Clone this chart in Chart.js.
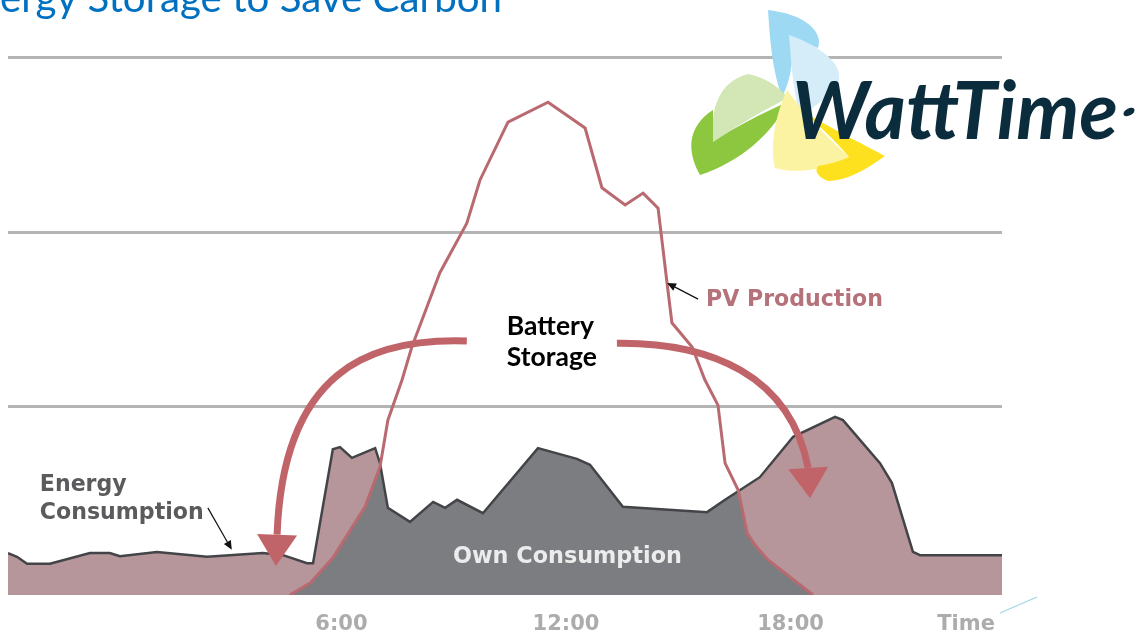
<!DOCTYPE html>
<html><head><meta charset="utf-8">
<script src="https://cdn.jsdelivr.net/npm/chart.js@4.4.1/dist/chart.umd.min.js"></script>
<style>html,body{margin:0;padding:0;background:#fff;overflow:hidden}</style>
</head><body>
<canvas id="c" width="1147" height="633"></canvas>
<script>
// ---- data (hours of day, relative power 0..100) ----
const consHours  = [-2.91,-2.67,-2.40,-1.79,-0.72,-0.19,0.08,1.07,2.41,3.90,4.44,5.08,5.24,5.77,5.96,6.28,6.90,7.03,7.24,7.83,8.45,8.77,9.09,9.78,11.25,12.29,12.64,13.52,15.77,16.25,17.18,18.07,19.19,19.40,20.39,20.71,21.27,21.46,23.65];
const consValues = [7.8,7.1,5.8,5.8,7.8,7.8,7.2,8.0,7.1,7.8,7.4,5.9,5.9,27.1,27.5,25.5,27.3,24.5,16.2,13.6,17.3,16.2,17.7,15.2,27.3,25.3,24.2,16.4,15.4,17.7,21.9,29.4,33.1,32.5,24.5,20.8,8.0,7.4,7.4];
const pvHours  = [4.62,5.16,5.77,6.63,7.03,7.24,7.62,7.88,8.63,9.35,9.70,10.45,11.52,12.51,12.96,13.58,14.06,14.46,14.70,14.83,15.37,15.71,16.06,16.25,16.60,16.84,17.05,17.40,18.60];
const pvValues = [0,2.2,6.9,16.4,23.8,32.5,40.0,46.1,59.9,69.1,77.1,87.9,91.6,86.8,75.7,72.5,74.7,71.9,58.0,50.6,46.1,40.0,35.3,24.5,19.5,11.5,9.3,6.5,0];
const tickHours  = [6, 12, 18, 22.69];
const tickLabels = ['6:00', '12:00', '18:00', 'Time'];
const gridValues = [35.13, 67.47, 100];
const xRange = [-2.91, 23.65];
const yRange = [0, 100];

// annotation anchors in data units
const leftArrow  = [[9.35,47.2],[6.76,47.8],[4.44,41.8],[4.28,11.2]];
const leftTip    = [4.25,5.4];
const rightArrow = [[13.36,46.8],[15.85,47.0],[17.99,40.9],[18.47,23.6]];
const rightTip   = [18.52,18.0];
const pvPointer  = [[15.53,55.0],[14.70,58.0]];
const consPointer= [[2.43,16.2],[3.07,8.4]];

const COLORS = {cons:'#b6969a', consLine:'#434447', own:'#7b7d81', pv:'#b96a70', arrow:'#c1646a', grid:'#b4b4b4'};

function fitFont(ctx, text, width, weight, family){
  ctx.font = weight + ' 100px ' + family;
  const w = ctx.measureText(text).width;
  return 100 * width / w;
}
function drawText(ctx, text, x, y, size, weight, family, color, align){
  ctx.font = weight + ' ' + size + 'px ' + family;
  ctx.fillStyle = color; ctx.textAlign = align || 'left'; ctx.textBaseline = 'alphabetic';
  ctx.fillText(text, x, y);
}
function head(ctx, bx, by, tx, ty, halfW, color){
  const dx = tx-bx, dy = ty-by, L = Math.hypot(dx,dy);
  const nx = -dy/L, ny = dx/L;
  ctx.beginPath();
  ctx.moveTo(bx+nx*halfW, by+ny*halfW);
  ctx.lineTo(tx, ty);
  ctx.lineTo(bx-nx*halfW, by-ny*halfW);
  ctx.closePath(); ctx.fillStyle = color; ctx.fill();
}
function pointer(ctx, a, b){
  ctx.save();
  ctx.strokeStyle = '#111'; ctx.lineWidth = 1.2;
  const dx=b[0]-a[0], dy=b[1]-a[1], L=Math.hypot(dx,dy);
  const ex = b[0]-dx/L*9, ey = b[1]-dy/L*9;
  ctx.beginPath(); ctx.moveTo(a[0],a[1]); ctx.lineTo(ex,ey); ctx.stroke();
  head(ctx, ex, ey, b[0], b[1], 4, '#111');
  ctx.restore();
}

const overlay = {
  id: 'overlay',
  beforeDatasetDraw(chart, args){
    if (args.index !== 0) return;
    const ctx = chart.ctx, pv = chart.getDatasetMeta(1).data, cons = chart.getDatasetMeta(0).data;
    const base = chart.scales.y.getPixelForValue(0);
    ctx.save();
    ctx.beginPath();
    pv.forEach((p,i)=> i ? ctx.lineTo(p.x,p.y) : ctx.moveTo(p.x,p.y));
    ctx.lineTo(pv[pv.length-1].x, base); ctx.lineTo(pv[0].x, base); ctx.closePath();
    ctx.clip();
    ctx.beginPath();
    cons.forEach((p,i)=> i ? ctx.lineTo(p.x,p.y) : ctx.moveTo(p.x,p.y));
    ctx.lineTo(cons[cons.length-1].x, base); ctx.lineTo(cons[0].x, base); ctx.closePath();
    ctx.fillStyle = COLORS.own; ctx.fill();
    ctx.restore();
  },
  afterDatasetsDraw(chart){
    const ctx = chart.ctx, X = chart.scales.x, Y = chart.scales.y;
    const P = d => [X.getPixelForValue(d[0]), Y.getPixelForValue(d[1])];
    // battery storage arrows
    [[leftArrow,leftTip],[rightArrow,rightTip]].forEach(([pts,tip])=>{
      const q = pts.map(P), t = P(tip);
      ctx.save();
      ctx.strokeStyle = COLORS.arrow; ctx.lineWidth = 7; ctx.lineCap='butt';
      ctx.beginPath(); ctx.moveTo(q[0][0],q[0][1]);
      ctx.bezierCurveTo(q[1][0],q[1][1],q[2][0],q[2][1],q[3][0],q[3][1]); ctx.stroke();
      head(ctx, q[3][0], q[3][1], t[0], t[1], 20, COLORS.arrow);
      ctx.restore();
    });
    // labels
    const sans = '"DejaVu Sans"';
    let s = fitFont(ctx, 'PV Production', 177, 'bold', sans);
    drawText(ctx, 'PV Production', X.getPixelForValue(15.74), Y.getPixelForValue(53.7), s, 'bold', sans, '#b5727a');
    s = fitFont(ctx, 'Consumption', 164, 'bold', sans);
    drawText(ctx, 'Energy', X.getPixelForValue(-2.06), Y.getPixelForValue(19.3), s, 'bold', sans, '#5b5b5d');
    drawText(ctx, 'Consumption', X.getPixelForValue(-2.06), Y.getPixelForValue(14.1), s, 'bold', sans, '#5b5b5d');
    s = fitFont(ctx, 'Own Consumption', 229, 'bold', sans);
    drawText(ctx, 'Own Consumption', X.getPixelForValue(8.98), Y.getPixelForValue(5.95), s, 'bold', sans, '#ececec');
    s = fitFont(ctx, 'Storage', 90, 'bold', 'Lato');
    drawText(ctx, 'Battery', X.getPixelForValue(10.42), Y.getPixelForValue(48.3), s, 'bold', 'Lato', '#000');
    drawText(ctx, 'Storage', X.getPixelForValue(10.42), Y.getPixelForValue(42.5), s, 'bold', 'Lato', '#000');
    pointer(ctx, P(pvPointer[0]), P(pvPointer[1]));
    pointer(ctx, P(consPointer[0]), P(consPointer[1]));
  },
  afterDraw(chart){
    const ctx = chart.ctx;
    // title (cut at the top-left edge)
    const tf = fitFont(ctx, 'ergy Storage to Save Carbon', 502, 'normal', 'Lato');
    drawText(ctx, 'Energy Storage to Save Carbon', 502, 12, tf, 'normal', 'Lato', '#0070c0', 'right');
    // small blue stroke near "Time"
    ctx.save(); ctx.strokeStyle='#9fd4e4'; ctx.lineWidth=1.2;
    ctx.beginPath(); ctx.moveTo(1000,613); ctx.lineTo(1037,597); ctx.stroke(); ctx.restore();
    // logo
    ctx.save();
    const leaf = (col, f) => { ctx.beginPath(); f(); ctx.closePath(); ctx.fillStyle = col; ctx.fill(); };
    leaf('#9dd9f3', ()=>{ ctx.moveTo(768,10); ctx.bezierCurveTo(805,14,824,32,818,48); ctx.lineTo(792,38); ctx.bezierCurveTo(794,62,790,82,782,97); ctx.bezierCurveTo(772,70,770,40,768,10); });
    leaf('#d5edf9', ()=>{ ctx.moveTo(789,35); ctx.bezierCurveTo(818,45,842,62,839,80); ctx.bezierCurveTo(832,96,815,106,800,116); ctx.bezierCurveTo(793,90,791,60,789,35); });
    leaf('#d2e6b6', ()=>{ ctx.moveTo(713,142); ctx.bezierCurveTo(710,110,718,82,748,74); ctx.bezierCurveTo(768,78,782,90,788,98); ctx.bezierCurveTo(760,112,735,127,713,142); });
    leaf('#8dc63f', ()=>{ ctx.moveTo(700,175); ctx.bezierCurveTo(686,150,688,126,713,110); ctx.lineTo(713,142); ctx.bezierCurveTo(735,127,760,114,788,102); ctx.bezierCurveTo(772,134,740,162,700,175); });
    leaf('#fbf3a2', ()=>{ ctx.moveTo(787,90); ctx.bezierCurveTo(777,112,769,142,775,168); ctx.bezierCurveTo(800,175,830,168,849,157); ctx.bezierCurveTo(830,140,805,115,787,90); });
    leaf('#fde11e', ()=>{ ctx.moveTo(805,113); ctx.bezierCurveTo(835,130,870,148,885,156); ctx.bezierCurveTo(866,170,846,181,828,181); ctx.bezierCurveTo(818,177,814,171,818,166); ctx.bezierCurveTo(835,163,842,160,849,157); ctx.bezierCurveTo(835,140,818,125,805,113); });
    ctx.font = 'italic bold 80px Lato'; ctx.fillStyle = '#0b2c3c'; ctx.textAlign='left'; ctx.textBaseline='alphabetic';
    ctx.fillText('WattTime', 792, 139, 326);
    leaf('#0b2c3c', ()=>{ ctx.ellipse(1129,112,6,3.5,-0.5,0,Math.PI*2); });
    ctx.restore();
  }
};

new Chart(document.getElementById('c'), {
  type: 'line',
  data: { datasets: [
    { label:'Energy Consumption', data: consHours.map((h,i)=>({x:h, y:consValues[i]})),
      borderColor: COLORS.consLine, borderWidth: 2.5, backgroundColor: COLORS.cons, fill: 'origin',
      pointRadius: 0, tension: 0, order: 2 },
    { label:'PV Production', data: pvHours.map((h,i)=>({x:h, y:pvValues[i]})),
      borderColor: COLORS.pv, borderWidth: 3, fill: false, pointRadius: 0, tension: 0, order: 1 }
  ]},
  options: {
    responsive: false, animation: false, devicePixelRatio: 1,
    layout: { padding: { left: 8, right: 145, top: 57, bottom: 0 } },
    plugins: { legend: { display: false }, tooltip: { enabled: false } },
    scales: {
      x: { type: 'linear', min: xRange[0], max: xRange[1],
           grid: { display: false }, border: { display: false },
           afterBuildTicks: s => { s.ticks = tickHours.map(v => ({ value: v })); },
           afterFit: s => { s.height = 38; },
           ticks: { autoSkip: false, maxRotation: 0, padding: 9, color: '#acacac',
                    font: { family: 'DejaVu Sans', weight: 'bold', size: 21 },
                    callback: (v, i) => tickLabels[i] } },
      y: { min: yRange[0], max: yRange[1],
           afterBuildTicks: s => { s.ticks = gridValues.map(v => ({ value: v })); },
           afterFit: s => { s.width = 0; },
           ticks: { display: false }, border: { display: false },
           grid: { color: COLORS.grid, lineWidth: 3, drawTicks: false } }
    }
  },
  plugins: [overlay]
});
</script>
</body></html>
